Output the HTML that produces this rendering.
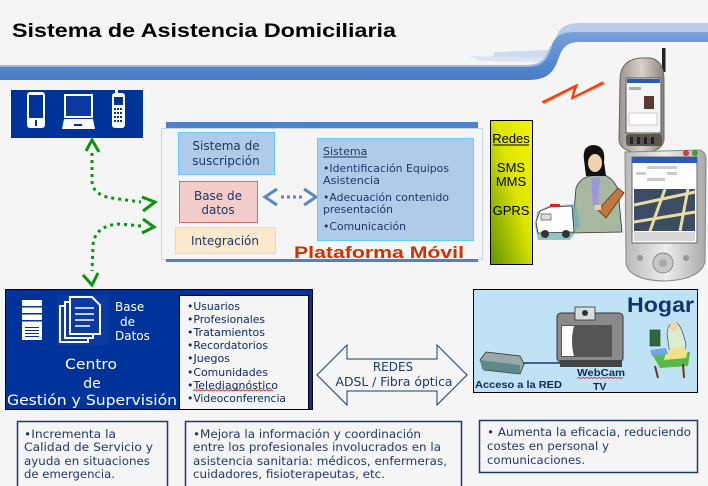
<!DOCTYPE html>
<html><head><meta charset="utf-8"><style>
html,body{margin:0;padding:0;background:#f5f5f5;}
svg{display:block;}
</style></head><body>
<svg width="708" height="486" viewBox="0 0 708 486" xmlns="http://www.w3.org/2000/svg">
<defs>
<linearGradient id="band" x1="0" y1="0" x2="0" y2="1">
<stop offset="0" stop-color="#7aa2dc"/><stop offset="0.5" stop-color="#5b8ed2"/><stop offset="1" stop-color="#4a7cc6"/>
</linearGradient>
<linearGradient id="redes" x1="1" y1="0" x2="0" y2="1">
<stop offset="0" stop-color="#f4f400"/><stop offset="0.45" stop-color="#dde400"/><stop offset="1" stop-color="#5e9400"/>
</linearGradient>
<linearGradient id="silver" x1="0" y1="0" x2="1" y2="0">
<stop offset="0" stop-color="#9a948c"/><stop offset="0.5" stop-color="#d8d2ca"/><stop offset="1" stop-color="#8a847c"/>
</linearGradient>
<linearGradient id="pda" x1="0" y1="0" x2="1" y2="0">
<stop offset="0" stop-color="#b8b8b8"/><stop offset="0.5" stop-color="#eeeeee"/><stop offset="1" stop-color="#a8a8a8"/>
</linearGradient>
</defs>
<rect width="708" height="486" fill="#f5f5f5"/>

<!-- title -->
<text x="12" y="37" font-family="Liberation Sans, sans-serif" font-weight="bold" font-size="19.5" textLength="384" lengthAdjust="spacingAndGlyphs" fill="#000">Sistema de Asistencia Domiciliaria</text>

<!-- swoosh -->
<path d="M555,40 C559,28 564,23 582,23 L708,23 L708,33 L580,33 C568,33 563,36 560,44 Z" fill="#b9cdea"/>
<path d="M495,52 L548,50 L547,58 L492,57 Z" fill="#c6d6ee" opacity="0.8"/>
<path d="M470,56 L545,58 L544,62 L480,61 Z" fill="#d2def0" opacity="0.7"/>
<path d="M0,66 L526,66 C543,66 547,58 551,47 C555,36 560,32 576,32 L708,32 L708,42 L580,42 C567,42 563,47 559,57 C554,72 548,80 528,80 L0,80 Z" fill="url(#band)"/>
<path d="M0,66 L526,66 C543,66 547,58 551,47" fill="none" stroke="#9ab8e4" stroke-width="2"/>

<!-- lightning -->
<polygon points="542,102 577,84 574,96 603,82 605,84 571,100 573,89 544,104" fill="#ff5522"/>
<polyline points="542,102 577,85 572,98 603,82" fill="none" stroke="#ff3300" stroke-width="1.5"/>

<!-- top-left icons box -->
<rect x="11" y="90" width="132" height="48" fill="#003399"/>
<rect x="27" y="92" width="18" height="36" rx="3" fill="#fff"/>
<rect x="29" y="95" width="14" height="23" fill="#003399"/>
<rect x="35" y="120" width="2" height="6" fill="#003399"/>
<rect x="64" y="94" width="29" height="24" fill="#fff"/>
<rect x="66" y="96" width="25" height="20" fill="#0a3aa0"/>
<polygon points="64,119 93,119 95,129 62,129" fill="#fff"/>
<rect x="74" y="124" width="8" height="2" fill="#003399"/>
<rect x="112" y="93" width="13" height="35" rx="3" fill="#fff"/>
<rect x="115" y="90" width="3" height="4" fill="#fff"/>
<rect x="114" y="97" width="9" height="8" fill="#003399"/>
<g fill="#003399">
<rect x="114" y="108" width="2" height="2"/><rect x="117" y="108" width="2" height="2"/><rect x="120" y="108" width="2" height="2"/>
<rect x="114" y="112" width="2" height="2"/><rect x="117" y="112" width="2" height="2"/><rect x="120" y="112" width="2" height="2"/>
<rect x="114" y="116" width="2" height="2"/><rect x="117" y="116" width="2" height="2"/><rect x="120" y="116" width="2" height="2"/>
<rect x="114" y="120" width="2" height="2"/><rect x="117" y="120" width="2" height="2"/><rect x="120" y="120" width="2" height="2"/>
</g>

<!-- green arrows -->
<g fill="none" stroke="#0a960a" stroke-width="3">
<path d="M92,153 L92,180 Q92,195 112,198 L141,202" stroke-dasharray="3,4"/>
<path d="M141,226 L120,224 Q95,225 93,245 L92,271" stroke-dasharray="3,4"/>
<polyline points="86,151 92,140 99,152" stroke-linejoin="miter"/>
<polyline points="142,197 155,202 143,211"/>
<polyline points="143,219 154,227 142,233"/>
<polyline points="83,275 92,285 98,273"/>
</g>

<!-- plataforma frame -->
<rect x="161.5" y="128.5" width="321" height="131" fill="none" stroke="#c8d4e8" stroke-width="1"/>
<rect x="166" y="122" width="312" height="6" fill="#4f81c8"/>
<rect x="166" y="259" width="312" height="3" fill="#4f81c8"/>

<rect x="178.5" y="132.5" width="96" height="42" fill="#b0cbe9" stroke="#66ccff"/>
<g font-family="DejaVu Sans, sans-serif" font-size="12" fill="#1f3864" text-anchor="middle">
<text x="226" y="150">Sistema de</text>
<text x="226" y="165">suscripción</text>
</g>
<rect x="179.5" y="181.5" width="78" height="41" fill="#f2cdcc" stroke="#d46a6a"/>
<g font-family="DejaVu Sans, sans-serif" font-size="12" fill="#1f3864" text-anchor="middle">
<text x="218" y="200">Base de</text>
<text x="218" y="214">datos</text>
</g>
<rect x="175.5" y="227.5" width="100" height="26" fill="#fce9cc" stroke="#f1d8a6"/>
<text x="225" y="245" font-family="DejaVu Sans, sans-serif" font-size="12" fill="#1f3864" text-anchor="middle">Integración</text>

<!-- blue dotted arrow -->
<g fill="none" stroke="#5a86c8" stroke-width="3">
<polyline points="277,189 265,197 277,205"/>
<line x1="281" y1="197" x2="302" y2="197" stroke-dasharray="3,3"/>
<polyline points="304,189 316,197 304,205"/>
</g>

<rect x="317.5" y="138.5" width="156" height="102" fill="#b0cbe9" stroke="#66ccff"/>
<g font-family="DejaVu Sans, sans-serif" font-size="11" fill="#1f3864">
<text x="323" y="155">Sistema</text>
<line x1="323" y1="157" x2="367" y2="157" stroke="#1f3864" stroke-width="1"/>
<text x="323" y="172" textLength="126" lengthAdjust="spacingAndGlyphs">•Identificación Equipos</text>
<text x="323" y="184" textLength="57" lengthAdjust="spacingAndGlyphs">Asistencia</text>
<text x="323" y="201" textLength="126" lengthAdjust="spacingAndGlyphs">•Adecuación contenido</text>
<text x="323" y="213" textLength="70" lengthAdjust="spacingAndGlyphs">presentación</text>
<text x="323" y="230" textLength="83" lengthAdjust="spacingAndGlyphs">•Comunicación</text>
</g>
<text x="294" y="258" font-family="Liberation Sans, sans-serif" font-weight="bold" font-size="17" fill="#cc3300" textLength="170" lengthAdjust="spacingAndGlyphs">Plataforma Móvil</text>

<!-- Redes bar -->
<rect x="490.5" y="120.5" width="42" height="144" fill="url(#redes)" stroke="#000"/>
<g font-family="Liberation Sans, sans-serif" font-size="13" fill="#000" text-anchor="middle">
<text x="511" y="143">Redes</text>
<line x1="493" y1="145" x2="529" y2="145" stroke="#000" stroke-width="1"/>
<text x="511" y="172">SMS</text>
<text x="511" y="186">MMS</text>
<text x="511" y="215">GPRS</text>
</g>

<!-- phone -->
<rect x="662" y="48" width="3.5" height="24" fill="#222"/>
<path d="M620,80 Q620,60 640,58 L650,58 Q664,60 664,80 L664,140 Q662,152 641,153 Q620,152 619,140 Z" fill="url(#silver)" stroke="#666"/>
<rect x="626" y="78" width="35" height="55" fill="#f4f4f4" stroke="#555"/>
<rect x="627" y="79" width="33" height="4" fill="#2a5ab8"/>
<rect x="644" y="96" width="10" height="13" fill="#5a3a2a"/>
<rect x="629" y="87" width="12" height="3" fill="#aaa"/>
<rect x="629" y="113" width="28" height="12" fill="#fff" stroke="#999" stroke-width="0.5"/>
<rect x="626" y="134" width="36" height="12" rx="3" fill="#5a5650"/>
<g fill="#222"><rect x="630" y="137" width="3" height="7"/><rect x="637" y="137" width="3" height="7"/><rect x="644" y="137" width="3" height="7"/><rect x="651" y="137" width="3" height="7"/></g>

<!-- PDA -->
<path d="M625,152 L700,150 Q706,152 706,160 L705,262 Q700,280 664,281 Q630,280 626,264 Z" fill="url(#pda)" stroke="#888"/>
<rect x="632" y="157" width="65" height="86" fill="#fff" stroke="#666"/>
<rect x="632" y="157" width="65" height="6" fill="#2a5ab8"/>
<g fill="#ccc"><rect x="647" y="166" width="30" height="3"/><rect x="636" y="172" width="10" height="3"/><rect x="667" y="172" width="10" height="3"/><rect x="647" y="178" width="18" height="3"/></g>
<rect x="634" y="189" width="61" height="42" fill="#3c4c62"/>
<g stroke="#e8dca0" stroke-width="3" fill="none">
<path d="M634,205 L695,192"/><path d="M650,231 L665,189"/><path d="M634,222 L695,212"/><path d="M680,231 L688,189"/>
</g>
<rect x="634" y="232" width="61" height="9" fill="#d8d8d8"/>
<circle cx="663" cy="263" r="10" fill="#c8c8c8" stroke="#888"/>
<circle cx="663" cy="263" r="4" fill="#aaa"/>
<circle cx="640" cy="258" r="3" fill="#999"/><circle cx="686" cy="258" r="3" fill="#999"/>
<circle cx="686" cy="153" r="3" fill="#c04040"/><circle cx="695" cy="153" r="3" fill="#40a040"/>

<!-- woman -->
<path d="M572,233 L576,188 Q580,178 590,176 L602,174 Q614,178 618,190 L622,232 Z" fill="#a8b8a0" stroke="#333" stroke-width="0.8"/>
<polygon points="591,178 600,176 598,205 593,205" fill="#9f96e0"/>
<path d="M584,160 Q582,145 594,145 Q606,146 604,162 L606,176 L586,176 Z" fill="#111"/>
<ellipse cx="595" cy="163" rx="7" ry="9" fill="#f3d2b0"/>
<path d="M598,210 L618,188 L624,193 L606,218 Z" fill="#c07840" stroke="#5a3010" stroke-width="0.8"/>
<rect x="595" y="205" width="6" height="5" fill="#f3d2b0"/>
<!-- ambulance -->
<path d="M535,225 L537,212 L548,206 L576,204 L580,226 L570,240 L538,240 Z" fill="#6ab0b0" opacity="0.7"/>
<path d="M536,222 L540,211 L550,207 L572,206 L574,232 L538,233 Z" fill="#fff" stroke="#333" stroke-width="0.8"/>
<rect x="550" y="204" width="10" height="3" fill="#e02020"/>
<circle cx="545" cy="234" r="4" fill="#333"/><circle cx="566" cy="234" r="4" fill="#333"/>
<rect x="541" y="214" width="10" height="6" fill="#ddd" stroke="#333" stroke-width="0.6"/>

<!-- Centro box -->
<rect x="5.5" y="289.5" width="307" height="120" fill="#003399" stroke="#000"/>
<rect x="57" y="295" width="53" height="50" fill="#0a3aa2"/>
<rect x="22" y="300" width="20" height="40" fill="#fff"/>
<g fill="#003399"><rect x="22" y="306" width="20" height="1.5"/><rect x="22" y="313" width="20" height="1.5"/><rect x="22" y="320" width="20" height="1.5"/>
<rect x="25" y="327" width="14" height="1"/><rect x="25" y="330" width="14" height="1"/><rect x="25" y="333" width="14" height="1"/><rect x="25" y="336" width="14" height="1"/></g>
<g fill="#0a3aa2" stroke="#fff" stroke-width="2">
<rect x="60" y="306" width="28" height="36"/>
<rect x="65" y="302" width="28" height="36"/>
<path d="M70,297 L92,297 L100,305 L100,334 L70,334 Z"/>
</g>
<g stroke="#fff" stroke-width="1.5"><line x1="75" y1="308" x2="94" y2="308"/><line x1="75" y1="314" x2="94" y2="314"/><line x1="75" y1="320" x2="94" y2="320"/><line x1="75" y1="326" x2="90" y2="326"/></g>
<g font-family="DejaVu Sans, sans-serif" font-size="12" fill="#fff">
<text x="115" y="311">Base</text>
<text x="120" y="326">de</text>
<text x="115" y="340">Datos</text>
</g>
<g font-family="DejaVu Sans, sans-serif" font-size="14" fill="#fff" text-anchor="middle">
<text x="91" y="369" textLength="52" lengthAdjust="spacingAndGlyphs">Centro</text>
<text x="92" y="388">de</text>
<text x="92" y="405" textLength="170" lengthAdjust="spacingAndGlyphs">Gestión y Supervisión</text>
</g>
<rect x="179.5" y="295.5" width="129" height="114" fill="#f5f5f5" stroke="#000"/>
<g font-family="DejaVu Sans, sans-serif" font-size="11" fill="#0c2a6a">
<text x="187" y="310" textLength="53" lengthAdjust="spacingAndGlyphs">•Usuarios</text>
<text x="187" y="323" textLength="78" lengthAdjust="spacingAndGlyphs">•Profesionales</text>
<text x="187" y="336" textLength="78" lengthAdjust="spacingAndGlyphs">•Tratamientos</text>
<text x="187" y="349" textLength="81" lengthAdjust="spacingAndGlyphs">•Recordatorios</text>
<text x="187" y="362" textLength="43" lengthAdjust="spacingAndGlyphs">•Juegos</text>
<text x="187" y="376" textLength="81" lengthAdjust="spacingAndGlyphs">•Comunidades</text>
<text x="187" y="389" textLength="91" lengthAdjust="spacingAndGlyphs">•Telediagnóstico</text>
<text x="187" y="402" textLength="99" lengthAdjust="spacingAndGlyphs">•Videoconferencia</text>
</g>
<path d="M193,391 l2,-1.5 l2,1.5 l2,-1.5 l2,1.5 l2,-1.5 l2,1.5 l2,-1.5 l2,1.5 l2,-1.5 l2,1.5 l2,-1.5 l2,1.5 l2,-1.5 l2,1.5 l2,-1.5 l2,1.5 l2,-1.5 l2,1.5 l2,-1.5 l2,1.5 l2,-1.5 l2,1.5 l2,-1.5 l2,1.5 l2,-1.5 l2,1.5 l2,-1.5 l2,1.5 l2,-1.5 l2,1.5 l2,-1.5 l2,1.5 l2,-1.5 l2,1.5 l2,-1.5 l2,1.5 l2,-1.5 l2,1.5 l2,-1.5 l2,1.5" fill="none" stroke="#e02020" stroke-width="0.8"/>

<!-- REDES arrow -->
<polygon points="317,375 347,345 347,359 437,359 437,345 467,375 437,405 437,391 347,391 347,405" fill="#f5f5f5" stroke="#1a3a6a" stroke-width="1"/>
<g font-family="DejaVu Sans, sans-serif" font-size="12" fill="#1a3a6a" text-anchor="middle">
<text x="393" y="371">REDES</text>
<text x="394" y="386" textLength="117" lengthAdjust="spacingAndGlyphs">ADSL / Fibra óptica</text>
</g>

<!-- Hogar -->
<rect x="473.5" y="289.5" width="224" height="103" fill="#bfe2f4" stroke="#000"/>
<text x="627" y="312" font-family="Liberation Sans, sans-serif" font-weight="bold" font-size="21" fill="#0f3570" textLength="67" lengthAdjust="spacingAndGlyphs">Hogar</text>
<!-- router -->
<polygon points="480,360 486,352 520,356 524,364 520,374 484,370" fill="#9aa8a8" stroke="#333" stroke-width="0.8"/>
<polygon points="480,360 520,365 520,374 482,369" fill="#5a8a8a"/>
<line x1="523" y1="363" x2="566" y2="363" stroke="#1a3a6a" stroke-width="1.5"/>
<!-- tv -->
<rect x="557" y="313" width="66" height="49" rx="4" fill="#8a8a8a" stroke="#333"/>
<rect x="561" y="325" width="51" height="32" fill="#555"/>
<path d="M562,326 L574,326 Q570,341 574,356 L562,356 Z" fill="#fff"/>
<rect x="560" y="360" width="62" height="7" fill="#444"/>
<rect x="575" y="307" width="20" height="13" fill="#d8dcdc" stroke="#333" stroke-width="0.8"/>
<circle cx="585" cy="313" r="3" fill="#333"/>
<!-- person -->
<polygon points="652,354 690,352 688,366 660,368" fill="#58b848"/>
<path d="M655,366 L658,378 M683,364 L684,378" stroke="#6a3a10" stroke-width="2"/>
<path d="M667,334 Q668,322 676,322 Q682,326 686,345 L684,355 L670,355 Z" fill="#d8ecd0" stroke="#333" stroke-width="0.6"/>
<ellipse cx="674" cy="326" rx="4" ry="5" fill="#f0d2a8"/>
<path d="M666,352 Q676,344 688,350 L686,358 L664,360 Z" fill="#f0e08a"/>
<rect x="650" y="330" width="10" height="16" fill="#2a6a3a" stroke="#333" stroke-width="0.6"/>
<path d="M650,350 L666,348 L668,354 L652,356 Z" fill="#6aa8e8"/>
<g font-family="Liberation Sans, sans-serif" font-weight="bold" font-size="10.5" fill="#0f2a5a">
<text x="475" y="388" textLength="87" lengthAdjust="spacingAndGlyphs">Acceso a la RED</text>
<text x="577" y="376" textLength="48" lengthAdjust="spacingAndGlyphs">WebCam</text>
<text x="593" y="390">TV</text>
</g>
<path d="M577,378.5 l2,-1.2 l2,1.2 l2,-1.2 l2,1.2 l2,-1.2 l2,1.2 l2,-1.2 l2,1.2 l2,-1.2 l2,1.2 l2,-1.2 l2,1.2 l2,-1.2 l2,1.2 l2,-1.2 l2,1.2 l2,-1.2 l2,1.2 l2,-1.2 l2,1.2 l2,-1.2 l2,1.2 l2,-1.2" fill="none" stroke="#e02020" stroke-width="0.8"/>

<!-- bottom boxes -->
<g fill="none" stroke="#1f3a6a" stroke-width="1.5">
<rect x="17.5" y="421.5" width="150" height="80"/>
<rect x="185.5" y="421.5" width="276" height="80"/>
<rect x="479.5" y="420.5" width="218" height="52"/>
</g>
<g font-family="DejaVu Sans, sans-serif" font-size="11.5" fill="#1f3a6a">
<text x="24" y="438" textLength="92" lengthAdjust="spacingAndGlyphs">•Incrementa la</text>
<text x="24" y="451" textLength="129" lengthAdjust="spacingAndGlyphs">Calidad de Servicio  y</text>
<text x="24" y="465" textLength="126" lengthAdjust="spacingAndGlyphs">ayuda en situaciones</text>
<text x="24" y="478" textLength="91" lengthAdjust="spacingAndGlyphs">de emergencia.</text>
<text x="193" y="438" textLength="228" lengthAdjust="spacingAndGlyphs">•Mejora la información y coordinación</text>
<text x="193" y="451" textLength="248" lengthAdjust="spacingAndGlyphs">entre los profesionales involucrados en la</text>
<text x="193" y="465" textLength="254" lengthAdjust="spacingAndGlyphs">asistencia sanitaria: médicos, enfermeras,</text>
<text x="193" y="478" textLength="192" lengthAdjust="spacingAndGlyphs">cuidadores, fisioterapeutas, etc.</text>
<text x="487" y="436" textLength="204" lengthAdjust="spacingAndGlyphs">• Aumenta la eficacia, reduciendo</text>
<text x="487" y="450" textLength="122" lengthAdjust="spacingAndGlyphs">costes en personal y</text>
<text x="487" y="464" textLength="98" lengthAdjust="spacingAndGlyphs">comunicaciones.</text>
</g>
</svg>
</body></html>
